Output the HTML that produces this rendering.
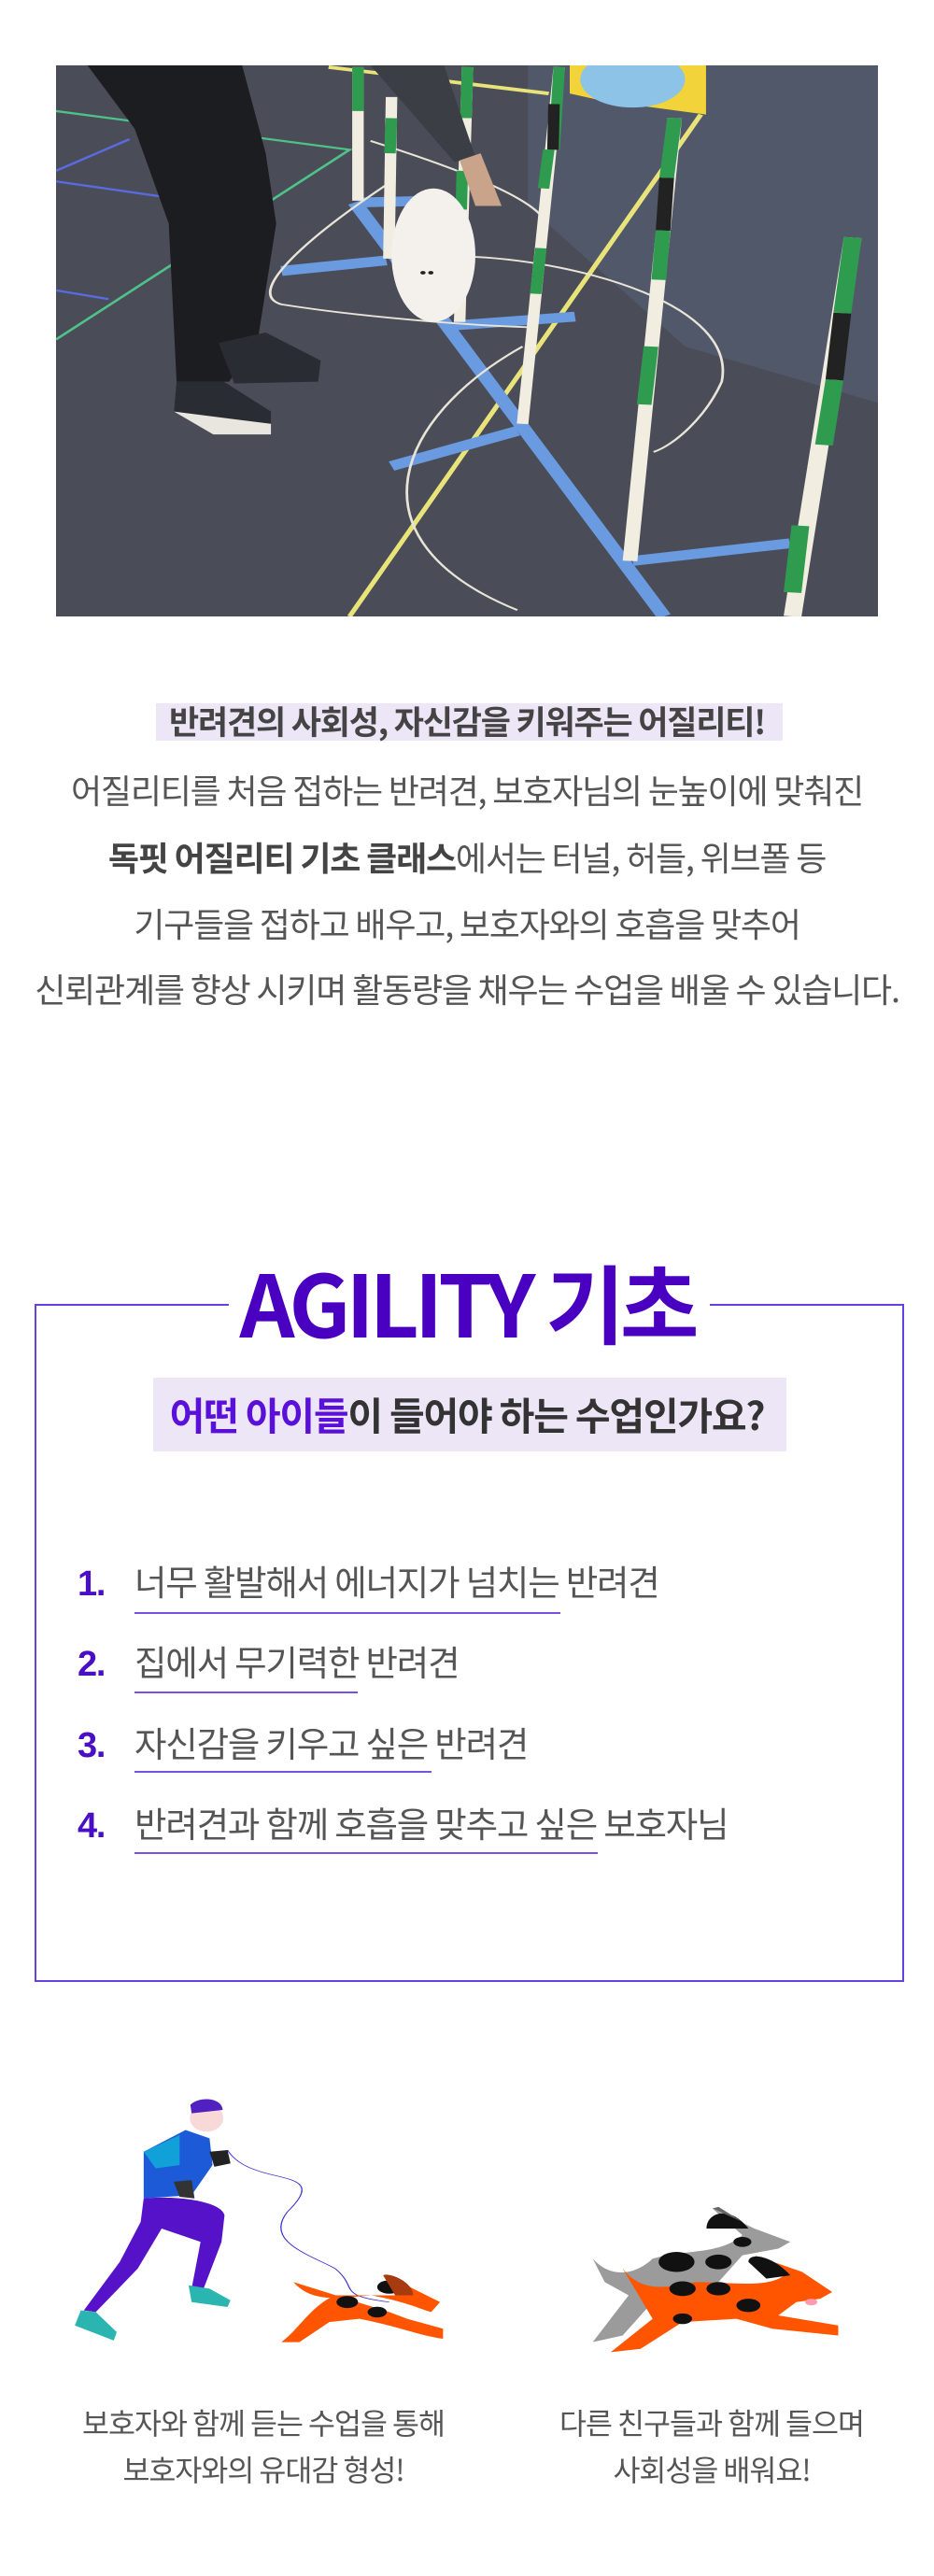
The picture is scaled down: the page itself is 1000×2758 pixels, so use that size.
<!DOCTYPE html>
<html><head><meta charset="utf-8">
<style>
*{margin:0;padding:0;box-sizing:border-box}
body{width:1000px;height:2758px;background:#fff;position:relative;overflow:hidden;font-family:"Liberation Sans","Noto Sans CJK KR",sans-serif;color:#555}
.abs{position:absolute}
.c{position:absolute;left:0;width:1000px;text-align:center;white-space:nowrap;letter-spacing:-1.2px}
.body{font-size:36px;color:#555;font-family:"Noto Sans CJK KR",sans-serif;line-height:44px}
b{font-weight:700;color:#444}
.li{position:absolute;left:83px;font-family:"Noto Sans CJK KR",sans-serif;font-size:37.5px;color:#555;letter-spacing:-1.2px;white-space:nowrap;line-height:48px}
.li span{color:#4a0fc4;font-weight:700;display:inline-block;width:61px;font-family:"Liberation Sans",sans-serif;font-size:38px}
.ul{position:absolute;left:144px;height:2px;background:#7b4fe0}
</style></head><body>

<svg class="abs" style="left:60px;top:70px" width="880" height="590" viewBox="0 0 1568 1568" preserveAspectRatio="none">
<rect width="1568" height="1568" fill="#4a4d57"/>
<polygon points="900,0 1568,0 1568,960 1200,800 900,400" fill="#51586a"/>
<path d="M0,130 L560,240 L0,780" stroke="#4fc28a" stroke-width="6" fill="none"/>
<path d="M0,300 L140,210 M0,330 L210,375 M0,640 L100,665" stroke="#5a6ae0" stroke-width="6" fill="none"/>
<path d="M520,5 L940,80 M1230,140 L560,1568" stroke="#e9e47a" stroke-width="10" fill="none"/>
<path d="M980,0 L1240,0 L1240,140 L1140,120 L1040,100 L980,80Z" fill="#f2d33a"/>
<ellipse cx="1100" cy="40" rx="100" ry="80" fill="#8cc3e6"/>
<g stroke="#6a9be0" stroke-width="28" fill="none">
<path d="M570,390 L1160,1568"/><path d="M430,585 L630,555"/><path d="M640,1140 L880,1040"/><path d="M1100,1410 L1400,1360"/><path d="M760,740 L990,715"/><path d="M580,390 L720,385"/>
</g>
<g stroke="#e8e4d8" stroke-width="5" fill="none">
<path d="M630,340 C470,500 360,650 430,680 C600,720 800,740 900,745"/>
<path d="M890,800 C650,1000 550,1350 880,1550"/>
<path d="M800,545 C1000,560 1300,680 1270,900 C1240,1000 1180,1080 1140,1100"/>
<path d="M600,215 C780,300 1000,420 920,500"/>
</g>
<g stroke-width="22">
<line x1="576" y1="5" x2="576" y2="385" stroke="#f1ede0"/><line x1="576" y1="5" x2="576" y2="130" stroke="#2e9b4e"/>
<line x1="640" y1="90" x2="635" y2="550" stroke="#f1ede0"/><line x1="640" y1="150" x2="637" y2="250" stroke="#2e9b4e"/>
<line x1="785" y1="5" x2="770" y2="730" stroke="#f1ede0"/><line x1="785" y1="5" x2="782" y2="150" stroke="#2e9b4e"/><line x1="775" y1="300" x2="773" y2="410" stroke="#2e9b4e"/>
<line x1="960" y1="5" x2="890" y2="1020" stroke="#f1ede0"/><line x1="960" y1="5" x2="950" y2="240" stroke="#2e9b4e"/><line x1="950" y1="110" x2="948" y2="240" stroke="#222"/><line x1="940" y1="240" x2="930" y2="350" stroke="#2e9b4e"/><line x1="925" y1="520" x2="915" y2="650" stroke="#2e9b4e"/>
<line x1="1180" y1="150" x2="1095" y2="1410" stroke="#f1ede0" stroke-width="28"/><line x1="1180" y1="150" x2="1165" y2="320" stroke="#2e9b4e" stroke-width="28"/><line x1="1165" y1="320" x2="1158" y2="470" stroke="#222" stroke-width="28"/><line x1="1158" y1="470" x2="1150" y2="610" stroke="#2e9b4e" stroke-width="28"/><line x1="1135" y1="800" x2="1122" y2="965" stroke="#2e9b4e" stroke-width="28"/>
<line x1="1520" y1="490" x2="1405" y2="1568" stroke="#f1ede0" stroke-width="34"/><line x1="1520" y1="490" x2="1500" y2="705" stroke="#2e9b4e" stroke-width="34"/><line x1="1500" y1="705" x2="1485" y2="895" stroke="#222" stroke-width="34"/><line x1="1485" y1="895" x2="1465" y2="1080" stroke="#2e9b4e" stroke-width="34"/><line x1="1420" y1="1310" x2="1405" y2="1500" stroke="#2e9b4e" stroke-width="34"/>
</g>
<path d="M60,0 L355,0 L400,250 L420,450 L385,780 L330,900 L230,900 L215,450 L150,180Z" fill="#1c1d21"/>
<path d="M600,0 L740,0 L800,260 L760,275Z" fill="#3b3e45"/>
<path d="M770,270 L810,250 L850,400 L800,400Z" fill="#c9a38a"/>
<path d="M310,790 L400,760 L505,840 L500,900 L340,905Z" fill="#2a2c33"/>
<path d="M230,900 L320,900 L410,985 L410,1045 L300,1045 L225,985Z" fill="#2a2c33"/>
<path d="M225,985 L410,1020 L410,1050 L300,1050 Z" fill="#e9e6df"/>
<ellipse cx="720" cy="540" rx="80" ry="190" fill="#f4f1ec"/>
<circle cx="700" cy="590" r="5" fill="#222"/><circle cx="715" cy="590" r="5" fill="#222"/>
</svg>

<div class="abs" style="left:167px;top:753px;width:671px;height:40px;background:#ece6f7"></div>
<div class="c body" style="top:750px;font-weight:700;color:#444;font-size:35px">반려견의 사회성, 자신감을 키워주는 어질리티!</div>
<div class="c body" style="top:823px">어질리티를 처음 접하는 반려견, 보호자님의 눈높이에 맞춰진</div>
<div class="c body" style="top:895px"><b>독핏 어질리티 기초 클래스</b>에서는 터널, 허들, 위브폴 등</div>
<div class="c body" style="top:966px">기구들을 접하고 배우고, 보호자와의 호흡을 맞추어</div>
<div class="c body" style="top:1036px">신뢰관계를 향상 시키며 활동량을 채우는 수업을 배울 수 있습니다.</div>

<div class="abs" style="left:37px;top:1396px;width:931px;height:726px;border:2px solid #6a3fe0;border-top:none"></div>
<div class="abs" style="left:37px;top:1396px;width:208px;height:2px;background:#6a3fe0"></div>
<div class="abs" style="left:760px;top:1396px;width:208px;height:2px;background:#6a3fe0"></div>
<div class="c" style="top:1338px;font-size:92px;font-weight:700;color:#4a00c0;letter-spacing:-5px;line-height:110px;font-family:'Noto Sans CJK KR',sans-serif">AGILITY 기초</div>
<div class="abs" style="left:164px;top:1475px;width:678px;height:79px;background:#ece6f7"></div>
<div class="c" style="top:1488px;font-size:41px;font-weight:700;color:#333;line-height:50px;font-family:'Noto Sans CJK KR',sans-serif"><span style="color:#5a10d8">어떤 아이들</span>이 들어야 하는 수업인가요?</div>

<div class="li" style="top:1668px"><span>1.</span>너무 활발해서 에너지가 넘치는 반려견</div>
<div class="ul" style="top:1726px;width:456px"></div>
<div class="li" style="top:1754px"><span>2.</span>집에서 무기력한 반려견</div>
<div class="ul" style="top:1811px;width:239px"></div>
<div class="li" style="top:1841px"><span>3.</span>자신감을 키우고 싶은 반려견</div>
<div class="ul" style="top:1896px;width:318px"></div>
<div class="li" style="top:1927px"><span>4.</span>반려견과 함께 호흡을 맞추고 싶은 보호자님</div>
<div class="ul" style="top:1983px;width:496px"></div>

<svg class="abs" style="left:0;top:2200px" width="1000" height="558" viewBox="0 0 1560 1560" preserveAspectRatio="none">
<path d="M380,285 C420,400 560,330 480,470 C440,560 520,600 560,640 C600,700 560,720 650,740" stroke="#3a30d0" stroke-width="2" fill="none"/>
<path d="M240,290 L310,225 L350,250 L355,330 L320,420 L240,430Z" fill="#1c5ad8"/>
<path d="M240,290 L300,240 L300,330 L260,340Z" fill="#12a0d8"/>
<ellipse cx="345" cy="190" rx="28" ry="40" fill="#f9d8d8"/>
<path d="M318,150 C330,125 370,125 372,165 L320,175Z" fill="#5020c0"/>
<path d="M350,290 L380,285 L385,325 L358,335Z" fill="#222"/>
<path d="M290,380 L320,375 L325,430 L300,425Z" fill="#333"/>
<path d="M240,430 C300,420 370,440 375,480 L370,560 L340,700 L320,700 L335,560 L270,520 L230,640 L160,770 L140,765 L200,620 L235,500Z" fill="#5512c8"/>
<path d="M315,690 L350,700 L385,735 L380,755 L320,740Z" fill="#2bb5b0"/>
<path d="M135,765 L160,770 L195,830 L190,855 L125,810Z" fill="#2bb5b0"/>
<path d="M490,680 C520,740 560,730 620,720 C680,740 700,760 720,770 L735,740 L690,700 L650,660 L660,720 L560,720 C520,750 500,820 470,860 L500,860 L550,800 L600,790 C660,810 700,840 740,850 L740,820 L680,790 L650,770Z" fill="#ff5500"/>
<circle cx="580" cy="740" r="18" fill="#111"/><circle cx="630" cy="770" r="16" fill="#111"/><circle cx="650" cy="695" r="20" fill="#111"/>
<path d="M640,660 C650,650 690,680 690,720 L660,720Z" fill="#a83a10"/>
<path d="M990,610 C1020,670 1060,660 1090,610 C1150,580 1200,600 1240,540 L1190,460 L1260,520 L1320,560 L1300,580 L1240,600 L1200,680 L1100,720 L1040,840 L990,860 L1050,720 L1010,680Z" fill="#9b9b9b"/>
<circle cx="1130" cy="620" r="30" fill="#111"/><circle cx="1200" cy="620" r="22" fill="#111"/><circle cx="1240" cy="560" r="15" fill="#111"/>
<path d="M1180,520 C1180,470 1220,450 1250,520Z" fill="#111"/><path d="M1190,460 L1200,455 L1240,500Z" fill="#666"/>
<path d="M1040,640 C1070,710 1110,700 1160,680 C1220,680 1280,700 1310,660 L1260,600 L1340,650 L1390,710 L1370,730 L1330,740 L1300,780 L1400,810 L1400,840 L1290,820 L1230,790 L1140,800 L1070,880 L1020,890 L1090,790 L1060,700Z" fill="#ff5500"/>
<circle cx="1140" cy="700" r="22" fill="#111"/><circle cx="1250" cy="750" r="20" fill="#111"/><circle cx="1200" cy="700" r="20" fill="#111"/><circle cx="1140" cy="790" r="16" fill="#111"/>
<path d="M1250,620 C1250,590 1290,600 1320,660 L1280,670Z" fill="#111"/>
<circle cx="1355" cy="740" r="10" fill="#ff9bb0"/>
</svg>
<div class="abs body" style="left:82px;width:400px;top:2568px;text-align:center;font-size:31.5px;line-height:50px;letter-spacing:-1px;white-space:nowrap">보호자와 함께 듣는 수업을 통해<br>보호자와의 유대감 형성!</div>
<div class="abs body" style="left:562px;width:400px;top:2568px;text-align:center;font-size:31.5px;line-height:50px;letter-spacing:-1px;white-space:nowrap">다른 친구들과 함께 들으며<br>사회성을 배워요!</div>
</body></html>
